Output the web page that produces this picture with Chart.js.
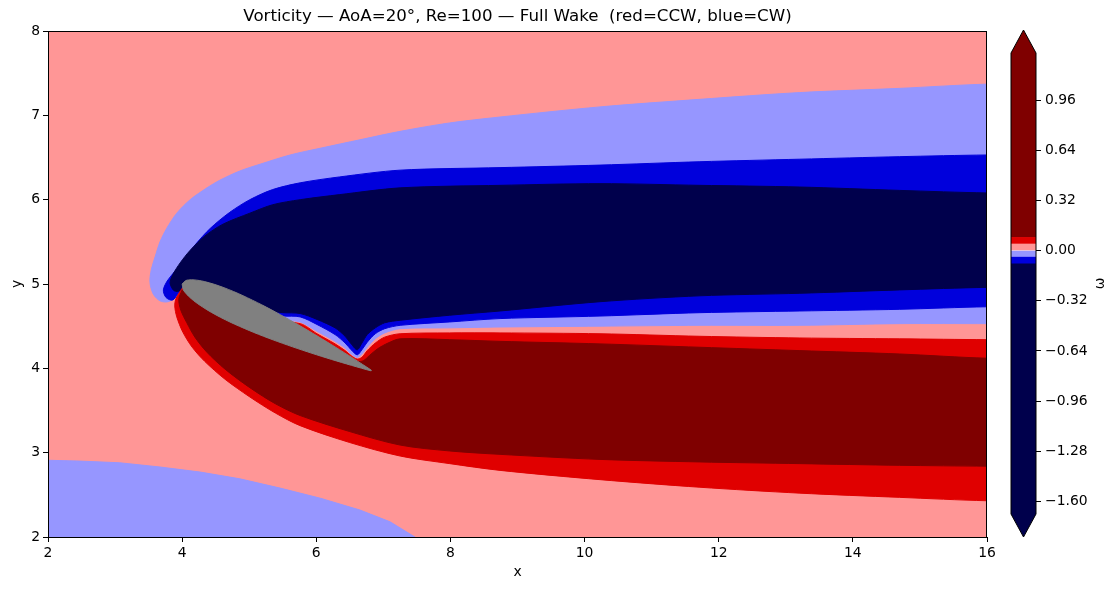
<!DOCTYPE html>
<html>
<head>
<meta charset="utf-8">
<script src="https://cdn.jsdelivr.net/npm/chart.js@4.4.1/dist/chart.umd.min.js"></script>
<style>
  body { margin: 0; background: #fff; }
  #wrap { position: relative; width: 1117px; height: 590px; }
  #wrap canvas { position: absolute; top: 0; }
</style>
</head>
<body>
<div id="wrap">
  <canvas id="main" width="1117" height="590" style="left:0"></canvas>
  <canvas id="cbar" width="127" height="590" style="left:990px"></canvas>
</div>
<script>
'use strict';

// contour boundaries in data units (x, y)
var lbLowerLeft = [[2.00,2.00],[2.00,2.91],[2.48,2.90],[3.07,2.88],[3.67,2.83],[4.27,2.77],[4.86,2.69],[5.46,2.58],[6.06,2.46],[6.65,2.32],[7.10,2.18],[7.47,2.00]];

var lbTop = [[16.00,7.37],[14.70,7.32],[13.21,7.27],[11.72,7.19],[10.23,7.10],[8.74,6.98],[7.99,6.91],[7.25,6.81],[6.65,6.71],[6.06,6.61],[5.61,6.53],[5.16,6.42],[4.86,6.34],[4.56,6.23],[4.37,6.14],[4.12,6.00],[3.92,5.84],[3.77,5.66],[3.67,5.50],[3.60,5.33],[3.54,5.17],[3.52,5.02],[3.57,4.88],[3.67,4.80],[3.79,4.79],[3.91,4.85],[4.00,4.95]];
var lbBottom = [[4.71,4.70],[5.01,4.64],[5.24,4.61],[5.50,4.57],[5.76,4.55],[6.01,4.44],[6.28,4.32],[6.43,4.24],[6.52,4.17],[6.61,4.13],[6.68,4.17],[6.76,4.25],[6.88,4.35],[7.02,4.42],[7.25,4.47],[7.99,4.48],[8.74,4.49],[10.23,4.50],[11.72,4.51],[13.21,4.51],[14.70,4.53],[16.00,4.53]];

var blueTop = [[16.00,6.53],[14.70,6.51],[13.21,6.48],[11.72,6.45],[10.23,6.41],[8.74,6.38],[7.25,6.35],[6.35,6.27],[5.76,6.20],[5.35,6.12],[5.01,6.00],[4.71,5.85],[4.42,5.66],[4.19,5.46],[4.01,5.26],[3.79,5.05],[3.72,4.93],[3.76,4.84],[3.86,4.81],[4.00,4.92]];
var blueBottom = [[4.71,4.73],[5.01,4.67],[5.24,4.64],[5.50,4.62],[5.76,4.61],[6.01,4.52],[6.28,4.40],[6.43,4.30],[6.52,4.22],[6.61,4.16],[6.68,4.22],[6.76,4.31],[6.88,4.41],[7.02,4.47],[7.25,4.51],[7.99,4.55],[8.74,4.59],[10.23,4.62],[11.72,4.66],[13.21,4.68],[14.70,4.70],[16.00,4.73]];

var navyTop = [[16.00,6.08],[14.70,6.11],[13.21,6.15],[11.72,6.17],[10.23,6.19],[8.74,6.17],[7.25,6.14],[6.35,6.06],[5.76,6.00],[5.35,5.94],[5.01,5.84],[4.61,5.71],[4.34,5.57],[4.12,5.40],[3.97,5.25],[3.86,5.11],[3.82,5.01],[3.88,4.92],[3.97,4.92],[4.01,4.98]];
var navyBottom = [[4.71,4.75],[5.01,4.69],[5.24,4.68],[5.50,4.66],[5.76,4.65],[6.01,4.58],[6.28,4.48],[6.43,4.38],[6.52,4.29],[6.61,4.22],[6.68,4.30],[6.76,4.40],[6.88,4.48],[7.02,4.54],[7.25,4.57],[7.99,4.63],[8.74,4.68],[10.23,4.79],[11.72,4.86],[13.21,4.89],[14.70,4.93],[16.00,4.96]];

var redTop = [[4.00,4.95],[5.01,4.60],[5.76,4.53],[6.01,4.41],[6.28,4.29],[6.43,4.21],[6.52,4.15],[6.61,4.11],[6.68,4.13],[6.76,4.21],[6.88,4.30],[7.02,4.37],[7.25,4.41],[7.99,4.42],[8.74,4.42],[10.23,4.41],[11.72,4.38],[13.21,4.36],[14.70,4.35],[16.00,4.34]];
var redOuter = [[16.00,2.43],[14.70,2.47],[13.21,2.52],[11.72,2.59],[10.23,2.68],[8.74,2.79],[7.99,2.87],[7.25,2.96],[6.50,3.12],[5.76,3.32],[5.39,3.47],[5.01,3.66],[4.64,3.87],[4.34,4.08],[4.15,4.25],[4.01,4.43],[3.92,4.61],[3.89,4.74],[3.91,4.83]];

var darkRedTop = [[4.00,4.93],[5.01,4.56],[5.76,4.48],[6.01,4.37],[6.28,4.25],[6.43,4.17],[6.52,4.11],[6.61,4.08],[6.70,4.09],[6.79,4.15],[6.91,4.23],[7.07,4.30],[7.25,4.35],[7.99,4.34],[8.74,4.32],[10.23,4.29],[11.72,4.25],[13.21,4.21],[14.70,4.17],[16.00,4.12]];
var darkRedOuter = [[16.00,2.84],[14.70,2.85],[13.21,2.87],[11.72,2.89],[10.23,2.92],[8.74,2.98],[7.99,3.02],[7.25,3.09],[6.50,3.25],[5.76,3.44],[5.39,3.58],[5.01,3.77],[4.64,3.99],[4.37,4.19],[4.19,4.37],[4.07,4.54],[3.98,4.69],[3.95,4.82]];

// airfoil: NACA 0012 half thickness (% chord), placed at the leading edge, tilted by AoA
var foilStations = [0, 0.0125, 0.025, 0.05, 0.075, 0.1, 0.15, 0.2, 0.25, 0.3, 0.4, 0.5, 0.6, 0.7, 0.8, 0.9, 0.95, 1.0];
var foilHalfThick = [0, 1.894, 2.615, 3.555, 4.2, 4.683, 5.345, 5.737, 5.941, 6.002, 5.803, 5.294, 4.563, 3.664, 2.623, 1.448, 0.807, 0.126];
var foilLE = [4.0, 5.0];
var foilChord = 3.0;
var foilAoA = 20;

// colour bar
var cbLevels = [-1.68, -0.084, -0.042, 0, 0.042, 0.084, 1.26];
var cbColors = ['#00004c', '#0000dc', '#9696ff', '#ff9696', '#e00000', '#7f0000'];
var cbTicks = [-1.60, -1.28, -0.96, -0.64, -0.32, 0.00, 0.32, 0.64, 0.96];

var C_NAVY = '#00004c', C_BLUE = '#0000dc', C_LB = '#9696ff', C_LR = '#ff9696',
    C_RED = '#e00000', C_DRED = '#7f0000', C_GRAY = '#808080';
var FONT = 'DejaVu Sans';
var X_MAX = 16;

function pts(list) {
    return list.map(function (p) { return {x: p[0], y: p[1]}; });
}
// run paths that touch the right edge a bit past it so smoothing stays out of view
function ext(path) {
    var out = path.slice();
    if (!out.length) return out;
    if (out[0][0] >= X_MAX) out.unshift([X_MAX + 1, out[0][1]]);
    var last = out[out.length - 1];
    if (last[0] >= X_MAX) out.push([X_MAX + 1, last[1]]);
    return out;
}
function ring(a, b) {
    var all = ext(a).concat(ext(b));
    all.push(all[0]);
    return pts(all);
}
function foil() {
    var a = foilAoA * Math.PI / 180;
    var ca = Math.cos(a), sa = Math.sin(a);
    var up = [], lo = [];
    for (var i = 0; i < foilStations.length; i++) {
        var s = foilStations[i] * foilChord;
        var h = foilHalfThick[i] / 100 * foilChord;
        up.push([foilLE[0] + s * ca + h * sa, foilLE[1] - s * sa + h * ca]);
        lo.push([foilLE[0] + s * ca - h * sa, foilLE[1] - s * sa - h * ca]);
    }
    return pts(up.concat(lo.reverse()));
}
function poly(data, color, tension) {
    return {
        data: data, showLine: true, fill: 'shape', tension: tension,
        backgroundColor: color, borderColor: color, borderWidth: 1,
        pointRadius: 0, pointHoverRadius: 0
    };
}

var bgPlugin = {
    id: 'bg',
    beforeDraw: function (chart) {
        var a = chart.chartArea, ctx = chart.ctx;
        ctx.save();
        ctx.fillStyle = C_LR;
        ctx.fillRect(a.left, a.top, a.right - a.left, a.bottom - a.top);
        ctx.restore();
    },
    afterDatasetsDraw: function (chart) {
        var a = chart.chartArea, ctx = chart.ctx;
        ctx.save();
        ctx.strokeStyle = '#000';
        ctx.lineWidth = 1;
        ctx.strokeRect(a.left + 0.5, a.top + 0.5, a.right - a.left - 1, a.bottom - a.top);
        ctx.restore();
    }
};

var tickFont = {family: FONT, size: 13.9};

new Chart(document.getElementById('main'), {
    type: 'scatter',
    data: {
        datasets: [
            poly(foil(), C_GRAY, 0.3),
            poly(ring(darkRedTop, darkRedOuter), C_DRED, 0.3),
            poly(ring(redTop, redOuter), C_RED, 0.3),
            poly(ring(navyTop, navyBottom), C_NAVY, 0.3),
            poly(ring(blueTop, blueBottom), C_BLUE, 0.3),
            poly(ring(lbTop, lbBottom), C_LB, 0.3),
            poly(ring(lbLowerLeft, []), C_LB, 0)
        ]
    },
    options: {
        responsive: false,
        animation: false,
        events: [],
        layout: {padding: {left: 0, right: 82, top: 0, bottom: 0}},
        plugins: {
            legend: {display: false},
            tooltip: {enabled: false},
            title: {
                display: true,
                text: 'Vorticity \u2014 AoA=20\u00b0, Re=100 \u2014 Full Wake  (red=CCW, blue=CW)',
                color: '#000',
                font: {family: FONT, size: 16.67, weight: 'normal', lineHeight: 1.2},
                padding: {top: 7, bottom: 4}
            }
        },
        scales: {
            x: {
                type: 'linear', position: 'bottom', min: 2, max: 16,
                ticks: {stepSize: 2, color: '#000', font: tickFont, padding: 3, maxRotation: 0},
                grid: {drawOnChartArea: false, color: '#000', tickLength: 5},
                border: {display: false},
                title: {display: true, text: 'x', color: '#000', font: tickFont, padding: {top: 0, bottom: 9.7}},
                afterFit: function (s) { s.height = 53; }
            },
            y: {
                type: 'linear', position: 'left', min: 2, max: 8,
                ticks: {stepSize: 1, color: '#000', font: tickFont, padding: 3},
                grid: {drawOnChartArea: false, color: '#000', tickLength: 5},
                border: {display: false},
                title: {display: true, text: 'y', color: '#000', font: tickFont, padding: {top: 8.7, bottom: 0}},
                afterFit: function (s) { s.width = 48; }
            },
            x2: {
                type: 'linear', position: 'top', min: 2, max: 16,
                ticks: {display: false}, grid: {display: false}, border: {display: false},
                afterFit: function (s) { s.height = 0; }
            },
            y2: {
                type: 'linear', position: 'right', min: 2, max: 8,
                ticks: {display: false}, grid: {display: false}, border: {display: false},
                afterFit: function (s) { s.width = 48; }
            }
        }
    },
    plugins: [bgPlugin]
});

// colour bar as floating bars on a value axis
var cbDatasets = [];
for (var i = 0; i < cbColors.length; i++) {
    cbDatasets.push({
        data: [[cbLevels[i], cbLevels[i + 1]]],
        backgroundColor: cbColors[i],
        borderWidth: 0,
        barPercentage: 1,
        categoryPercentage: 1,
        grouped: false
    });
}

var cbPlugin = {
    id: 'cbExtras',
    afterDatasetsDraw: function (chart) {
        var a = chart.chartArea, ctx = chart.ctx;
        var mid = (a.left + a.right) / 2, ext = 23;
        ctx.save();
        ctx.fillStyle = cbColors[cbColors.length - 1];
        ctx.beginPath();
        ctx.moveTo(a.left, a.top); ctx.lineTo(mid, a.top - ext); ctx.lineTo(a.right, a.top);
        ctx.closePath(); ctx.fill();
        ctx.fillStyle = cbColors[0];
        ctx.beginPath();
        ctx.moveTo(a.left, a.bottom); ctx.lineTo(mid, a.bottom + ext); ctx.lineTo(a.right, a.bottom);
        ctx.closePath(); ctx.fill();
        ctx.strokeStyle = '#000';
        ctx.lineWidth = 1;
        ctx.beginPath();
        ctx.moveTo(a.left, a.top); ctx.lineTo(mid, a.top - ext); ctx.lineTo(a.right, a.top);
        ctx.lineTo(a.right, a.bottom); ctx.lineTo(mid, a.bottom + ext); ctx.lineTo(a.left, a.bottom);
        ctx.closePath(); ctx.stroke();
        // axis label, rotated like matplotlib
        ctx.fillStyle = '#000';
        ctx.font = '13.9px "' + FONT + '"';
        ctx.textAlign = 'center';
        ctx.textBaseline = 'middle';
        ctx.translate(110, (a.top + a.bottom) / 2);
        ctx.rotate(-Math.PI / 2);
        ctx.fillText('\u03c9', 0, 0);
        ctx.restore();
    }
};

new Chart(document.getElementById('cbar'), {
    type: 'bar',
    data: {labels: ['w'], datasets: cbDatasets},
    options: {
        responsive: false,
        animation: false,
        events: [],
        layout: {padding: {left: 21, right: 0, top: 53, bottom: 76}},
        plugins: {legend: {display: false}, tooltip: {enabled: false}},
        scales: {
            x: {display: false},
            y: {
                position: 'right', min: cbLevels[0], max: cbLevels[cbLevels.length - 1],
                afterBuildTicks: function (s) {
                    s.ticks = cbTicks.map(function (v) { return {value: v}; });
                },
                ticks: {
                    color: '#000', font: tickFont, padding: 4,
                    callback: function (v) {
                        var t = Math.abs(v).toFixed(2);
                        return (v < -1e-9 ? '\u2212' : '') + t;
                    }
                },
                grid: {drawOnChartArea: false, color: '#000', tickLength: 5},
                border: {display: false},
                afterFit: function (s) { s.width = 81; }
            }
        }
    },
    plugins: [cbPlugin]
});
</script>
</body>
</html>
